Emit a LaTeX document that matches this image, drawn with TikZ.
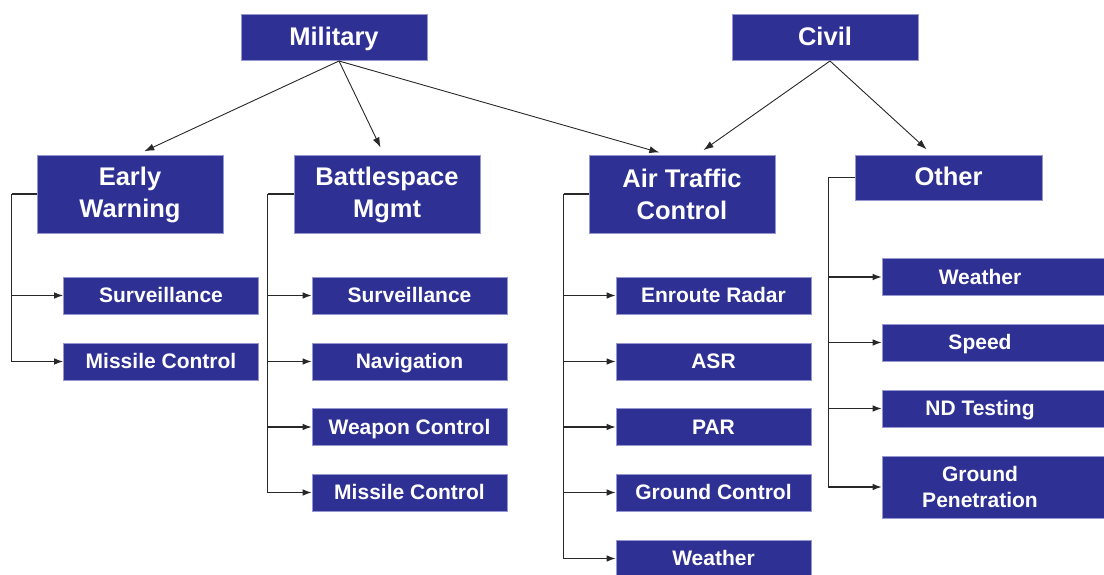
\documentclass[tikz,border=0pt]{standalone}
\usepackage{fontspec}
\setmainfont{Liberation Sans}
\usetikzlibrary{arrows.meta}
\definecolor{boxblue}{RGB}{47,48,148}
\definecolor{boxedge}{RGB}{150,150,210}
\definecolor{wire}{RGB}{40,40,40}
% two-line heading with fixed top and bottom room
\newcommand{\twolines}[2]{\rule{0pt}{20pt}#1\\#2\rule[-2pt]{0pt}{2pt}}
% text of the boxes on the right that run past the edge
\newcommand{\edgetext}[1]{\makebox[228pt][l]{\makebox[196pt]{#1}}}
\newcommand{\edgetwo}[2]{\makebox[228pt][l]{\parbox{196pt}{\centering #1\\#2}}}
\begin{document}
\begin{tikzpicture}[x=1pt,y=-1pt,
  box/.style={rectangle, fill=boxblue, draw=boxedge, line width=0.6pt,
    text=white, inner sep=0pt, align=center},
  head/.style={box, minimum width=186pt, font=\fontsize{25.5}{32}\selectfont\bfseries},
  onehead/.style={head, text height=18pt, text depth=2pt},
  leafbase/.style={box, minimum width=195pt, minimum height=37pt,
    font=\fontsize{21}{26}\selectfont\bfseries},
  leaf/.style={leafbase, text height=15.5pt, text depth=1.5pt},
  edgeleaf/.style={leaf, minimum width=228pt},
  feed/.style={draw=wire, line width=0.9pt, -{Latex[length=10pt,width=7pt]}, shorten >=8pt},
  branch/.style={draw=wire, line width=1.2pt, -{Latex[length=9pt,width=6.5pt]}},
  stem/.style={draw=wire, line width=1.2pt}]
\useasboundingbox (0,0) rectangle (1104,575);
\clip (0,0) rectangle (1104,575);
\fill[white] (0,0) rectangle (1104,575);

% top level
\node[onehead, minimum height=46pt] (mil) at (334,37.5) {Military};
\node[onehead, minimum height=46pt] (civ) at (825,37.5) {Civil};

% second level
\node[head, minimum height=78pt] (ew)  at (130,194) {\twolines{Early}{Warning}};
\node[head, minimum height=78pt] (bm)  at (387,194) {\twolines{Battlespace}{Mgmt}};
\node[head, minimum height=78pt] (atc) at (682,194) {\twolines{Air Traffic}{Control}};
\node[onehead, minimum height=45pt, minimum width=187pt] (oth) at (948.5,177.5) {Other};

% early warning
\node[leaf] (ew1) at (161,295.5) {Surveillance};
\node[leaf] (ew2) at (161,361.5) {Missile Control};

% battlespace management
\node[leaf] (bm1) at (409.5,295.5) {Surveillance};
\node[leaf] (bm2) at (409.5,361.5) {Navigation};
\node[leaf] (bm3) at (409.5,427) {Weapon Control};
\node[leaf] (bm4) at (409.5,492.5) {Missile Control};

% air traffic control
\node[leaf] (at1) at (713.5,295.5) {Enroute Radar};
\node[leaf] (at2) at (713.5,361.5) {ASR};
\node[leaf] (at3) at (713.5,427) {PAR};
\node[leaf] (at4) at (713.5,492.5) {Ground Control};
\node[leaf] (at5) at (713.5,558.5) {Weather};

% other
\node[edgeleaf] (ot1) at (996,277) {\edgetext{Weather}};
\node[edgeleaf] (ot2) at (996,342.5) {\edgetext{Speed}};
\node[edgeleaf] (ot3) at (996,408.5) {\edgetext{ND Testing}};
\node[leafbase, minimum width=228pt, minimum height=62pt] (ot4) at (996,487)
  {\edgetwo{Ground}{Penetration}};

% links from the top level
\coordinate (milout) at (339,61);
\coordinate (civout) at (830,61);
\draw[feed] (milout) -- ([xshift=7pt]ew.north);
\draw[feed] (milout) -- ([xshift=-3pt]bm.north);
\draw[feed] (milout) -- ([xshift=-15pt]atc.north);
\draw[feed] (civout) -- ([xshift=15pt]atc.north);
\draw[feed] (civout) -- ([xshift=-16pt]oth.north);

% branches to the leaves
\draw[stem] (ew.west) -- ++(-25pt,0);
\foreach \c in {ew1,ew2}
  \draw[branch] ([xshift=-25pt]ew.west) |- (\c.west);

\draw[stem] (bm.west) -- ++(-26pt,0);
\foreach \c in {bm1,bm2,bm3,bm4}
  \draw[branch] ([xshift=-26pt]bm.west) |- (\c.west);

\draw[stem] (atc.west) -- ++(-25pt,0);
\foreach \c in {at1,at2,at3,at4,at5}
  \draw[branch] ([xshift=-25pt]atc.west) |- (\c.west);

\draw[stem] (oth.west) -- ++(-26pt,0);
\foreach \c in {ot1,ot2,ot3,ot4}
  \draw[branch] ([xshift=-26pt]oth.west) |- (\c.west);
\end{tikzpicture}
\end{document}
